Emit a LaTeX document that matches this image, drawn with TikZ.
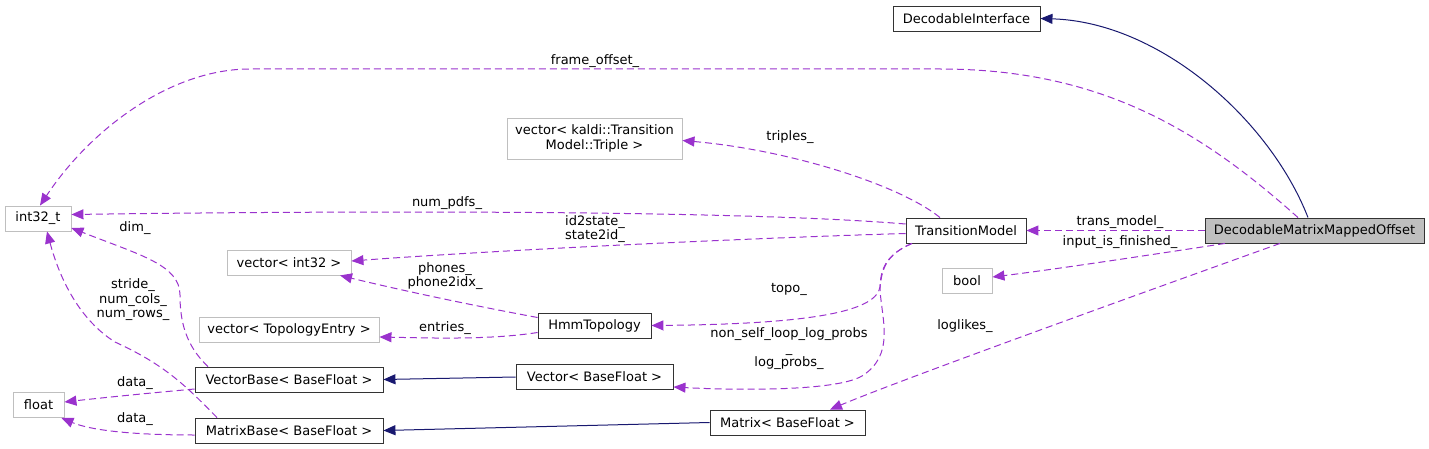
\documentclass[tikz,border=0pt]{standalone}
\usepackage{fontspec}
\setmainfont{DejaVu Sans}
\usetikzlibrary{arrows.meta}
\definecolor{edgeuse}{HTML}{9A32CD}
\definecolor{edgeinh}{HTML}{191970}
\definecolor{graybd}{HTML}{BFBFBF}
\definecolor{boxbd}{HTML}{333333}
\begin{document}
\begin{tikzpicture}[x=1pt,y=-1pt,
  every node/.style={font=\fontsize{13}{14.5}\selectfont, inner sep=0pt},
  cls/.style={draw=boxbd, line width=0.9pt, minimum height=25pt, align=center},
  ext/.style={draw=graybd, line width=0.9pt, minimum height=25pt, align=center},
  lbl/.style={align=center},
  use/.style={draw=edgeuse, line width=1pt, dash pattern=on 7pt off 4pt, -{Triangle[length=12pt,width=10pt,fill=edgeuse]}},
  inh/.style={draw=edgeinh, line width=1pt, -{Triangle[length=12pt,width=10pt,fill=edgeinh]}}
]
\useasboundingbox (0,0) rectangle (1429,449);

% nodes
\node[cls, minimum width=147pt] (di) at (966.5,18.5) {DecodableInterface};
\node[cls, minimum width=219pt, fill=graybd] (dmmo) at (1314.5,230.5) {DecodableMatrixMappedOffset};
\node[cls, minimum width=120pt] (tm) at (966,230.5) {TransitionModel};
\node[ext, minimum width=50pt] (bool) at (967,280.5) {bool};
\node[ext, minimum width=66pt] (int) at (38,218.5) {int32\_t};
\node[ext, minimum width=175pt, minimum height=41pt] (trip) at (594.5,138.5) {vector\textless{} kaldi::Transition\\Model::Triple \textgreater{}};
\node[ext, minimum width=124pt] (vint) at (289,262.5) {vector\textless{} int32 \textgreater{}};
\node[ext, minimum width=180pt] (vte) at (289,329.5) {vector\textless{} TopologyEntry \textgreater{}};
\node[cls, minimum width=113pt] (hmm) at (594.5,325.5) {HmmTopology};
\node[cls, minimum width=188pt] (vb) at (289,379.5) {VectorBase\textless{} BaseFloat \textgreater{}};
\node[cls, minimum width=157pt] (vec) at (594.5,377) {Vector\textless{} BaseFloat \textgreater{}};
\node[ext, minimum width=51pt] (flt) at (38.5,405) {float};
\node[cls, minimum width=188pt] (mb) at (289,430.5) {MatrixBase\textless{} BaseFloat \textgreater{}};
\node[cls, minimum width=155pt] (matrix) at (787.5,422.5) {Matrix\textless{} BaseFloat \textgreater{}};

% edges
\draw[inh] ([xshift=-6.5pt]dmmo.north) .. controls (1270,120) and (1160,22) .. (di.east);
\draw[use] ([xshift=-16.5pt]dmmo.north) .. controls (1200,130) and (1100,69) .. (940,69) -- (250,69) .. controls (170,69) and (90,130) .. ([xshift=2pt]int.north);
\draw[use] (dmmo.west) -- (tm.east);
\draw[use] ([xshift=-89.5pt]dmmo.south) .. controls (1150,255) and (1050,270) .. ([yshift=3.5pt]bool.east);
\draw[use] ([xshift=-34.5pt]dmmo.south) .. controls (1150,290) and (900,380) .. ([xshift=42.5pt]matrix.north);
\draw[use] ([xshift=-26pt]tm.north) .. controls (900,185) and (790,150) .. ([yshift=-2pt]trip.east);
\draw[use] ([yshift=6.5pt]tm.west) .. controls (750,211) and (400,210) .. ([yshift=4pt]int.east);
\draw[use] ([yshift=-3pt]tm.west) .. controls (750,238) and (500,250) .. ([yshift=1.5pt]vint.east);
\draw[use] ([xshift=-54pt]tm.south) .. controls (885,255) and (882,270) .. (880,287) .. controls (876,310) and (820,324) .. (hmm.east);
\draw[use] ([xshift=-54pt]tm.south) .. controls (885,255) and (880,270) .. (880,290) .. controls (882,320) and (895,355) .. (862,376) .. controls (835,392) and (730,390) .. ([yshift=-10pt]vec.east);
\draw[use] ([yshift=8pt]hmm.west) .. controls (470,305) and (400,290) .. ([xshift=51pt]vint.south);
\draw[use] ([yshift=-7pt]hmm.west) .. controls (490,340) and (430,338) .. ([yshift=-7.5pt]vte.east);
\draw[inh] (vec.west) -- (vb.east);
\draw[inh] (matrix.west) -- (mb.east);
\draw[use] ([xshift=-81pt]vb.north) .. controls (185,345) and (180,320) .. (180,295) .. controls (180,265) and (140,255) .. ([yshift=-9.5pt]int.east);
\draw[use] ([xshift=-72pt]mb.north) .. controls (185,385) and (165,365) .. (115,342) .. controls (80,320) and (60,280) .. ([xshift=9pt]int.south);
\draw[use] ([yshift=-9.5pt]vb.west) .. controls (150,393) and (100,398) .. ([yshift=3pt]flt.east);
\draw[use] ([yshift=-4.5pt]mb.west) .. controls (130,435) and (90,430) .. ([xshift=-3pt]flt.south east);

% labels
\node[lbl] (l1) at (595,61) {frame\_offset\_};
\node[lbl] (l2) at (790,137) {triples\_};
\node[lbl] (l3) at (447,203) {num\_pdfs\_};
\node[lbl] (l4) at (595,229) {id2state\_\\state2id\_};
\node[lbl] (l5) at (1120,222) {trans\_model\_};
\node[lbl] (l6) at (1120,242) {input\_is\_finished\_};
\node[lbl] (l7) at (965,326) {loglikes\_};
\node[lbl] (l8) at (789,289) {topo\_};
\node[lbl] (l9) at (789,349) {non\_self\_loop\_log\_probs\\\_\\log\_probs\_};
\node[lbl] (l10) at (445,276) {phones\_\\phone2idx\_};
\node[lbl] (l11) at (445,328) {entries\_};
\node[lbl] (l12) at (135,228) {dim\_};
\node[lbl] (l13) at (133,300) {stride\_\\num\_cols\_\\num\_rows\_};
\node[lbl] (l14) at (135,383) {data\_};
\node[lbl] (l15) at (135,419) {data\_};
\end{tikzpicture}
\end{document}
